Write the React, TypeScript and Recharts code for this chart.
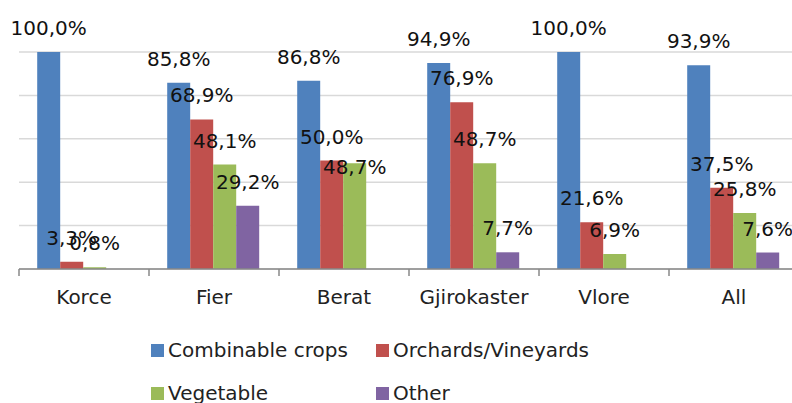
import { BarChart, Bar, XAxis, YAxis, CartesianGrid, LabelList, Legend } from "recharts";

const regions = ["Korce", "Fier", "Berat", "Gjirokaster", "Vlore", "All"];
const combinable = [100.0, 85.8, 86.8, 94.9, 100.0, 93.9];
const orchards = [3.3, 68.9, 50.0, 76.9, 21.6, 37.5];
const vegetable = [0.8, 48.1, 48.7, 48.7, 6.9, 25.8];
const other = [null, 29.2, null, 7.7, null, 7.6];

const seriesNames = ["Combinable crops", "Orchards/Vineyards", "Vegetable", "Other"];
const seriesKeys = ["combinable", "orchards", "vegetable", "other"];
const colors = ["#4F81BD", "#C0504D", "#9BBB59", "#8064A2"];

const yTicks = [0, 20, 40, 60, 80, 100];

// one label in the original was dragged down onto its bar
const labelNudge: Record<string, number> = { "Berat-vegetable": 28 };

const data = regions.map((region, i) => ({
  region,
  combinable: combinable[i],
  orchards: orchards[i],
  vegetable: vegetable[i],
  other: other[i],
}));

const W = 792;
const H = 403;
const margin = { top: 52, right: -7, bottom: 94, left: 19 };
const bandWidth = (W - margin.left - margin.right) / regions.length;

const FONT = "'DejaVu Sans', sans-serif";

const fmt = (v: number) => v.toFixed(1).replace(".", ",") + "%";

const makeLabel = (key: string) => (props: any) => {
  const { x, y, width, value, index } = props;
  if (value === null || value === undefined) return null;
  const nudge = labelNudge[`${regions[index]}-${key}`] || 0;
  return (
    <text
      x={Number(x) + Number(width) / 2}
      y={Number(y) - 24 + nudge}
      textAnchor="middle"
      dominantBaseline="central"
      fontFamily={FONT}
      fontSize={20}
      fill="#111"
    >
      {fmt(Number(value))}
    </text>
  );
};

// category label plus a tick mark on the left boundary of each band
const renderTick = (props: any) => {
  const { x, y, payload } = props;
  const half = bandWidth / 2;
  return (
    <g>
      <line x1={x - half} x2={x - half} y1={y} y2={y + 7} stroke="#898989" strokeWidth={1.5} />
      <text
        x={x}
        y={y + 28}
        textAnchor="middle"
        dominantBaseline="central"
        fontFamily={FONT}
        fontSize={20}
        fill="#222"
      >
        {payload.value}
      </text>
    </g>
  );
};

const renderLegend = () => {
  const cols = [151, 376];
  const rows = [350, 393];
  return (
    <div style={{ position: "relative", width: W, height: 0 }}>
      {seriesNames.map((name, i) => (
        <div
          key={name}
          style={{
            position: "absolute",
            left: cols[i % 2],
            top: rows[Math.floor(i / 2)] - 330 - 13,
            height: 26,
            display: "flex",
            alignItems: "center",
            fontFamily: FONT,
            fontSize: 20,
            color: "#222",
            whiteSpace: "nowrap",
          }}
        >
          <span
            style={{
              display: "inline-block",
              width: 13,
              height: 13,
              background: colors[i],
              marginRight: 4,
            }}
          />
          {name}
        </div>
      ))}
    </div>
  );
};

export default function App() {
  return (
    <div style={{ position: "absolute", left: 0, top: 0 }}>
      <BarChart
        width={W}
        height={H}
        data={data}
        margin={margin}
        barCategoryGap="14%"
        barGap={0}
      >
        <CartesianGrid vertical={false} stroke="#D9D9D9" strokeWidth={1.5} />
        <XAxis
          dataKey="region"
          interval={0}
          height={40}
          tickSize={0}
          tickMargin={0}
          tickLine={false}
          axisLine={{ stroke: "#898989", strokeWidth: 1.5 }}
          tick={renderTick}
        />
        <YAxis domain={[0, 100]} ticks={yTicks} hide />
        {seriesKeys.map((key, i) => (
          <Bar
            key={key}
            dataKey={key}
            name={seriesNames[i]}
            fill={colors[i]}
            isAnimationActive={false}
          >
            <LabelList dataKey={key} content={makeLabel(key)} />
          </Bar>
        ))}
        <Legend
          content={renderLegend}
          wrapperStyle={{ position: "absolute", left: 0, top: 330, width: W, height: 0 }}
        />
      </BarChart>
    </div>
  );
}
